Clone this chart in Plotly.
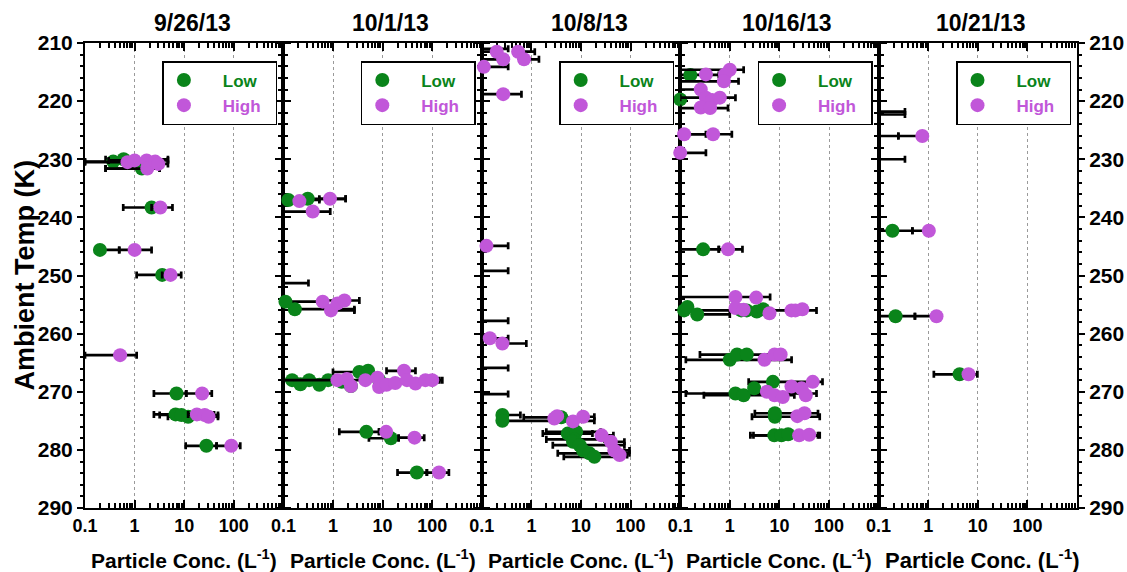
import plotly.graph_objects as go

FONT = "Liberation Sans, Arial, Helvetica, sans-serif"
GREEN = "#0a841a"
PURPLE = "#c157d9"

DATES = ["9/26/13", "10/1/13", "10/8/13", "10/16/13", "10/21/13"]
X_TICKS = [0.1, 1, 10, 100]
X_TICK_TEXT = ["0.1", "1", "10", "100"]
Y_TICKS = [210, 220, 230, 240, 250, 260, 270, 280, 290]
BELOW_DETECTION = 0.05  # concentration below axis range (bar only)

# ---------------- 9/26/13 ----------------
d1_low_conc = [0.37, 0.60, 1.4, 2.2, 0.20, 3.6, 7.0, 6.7, 8.8, 12, 28]
d1_low_temp = [230.4, 230.0, 231.6, 238.3, 245.6, 249.9, 270.3, 273.9, 274.0, 274.3, 279.3]
d1_low_lo = [0.1, 0.26, 0.26, 0.59, None, 1.1, 2.45, 2.45, 3.2, 4.7, 10.7]
d1_low_hi = [1.2, 4.7, 3.2, 3.3, 0.49, 5.0, 11, 9, 12, 15, 45]
d1_high_conc = [0.72, 1.0, 1.75, 1.8, 2.6, 3.0, 3.3, 1.0, 5.3, 0.51, 23, 18, 26, 31, 89]
d1_high_temp = [230.5, 230.2, 230.2, 231.6, 230.4, 230.8, 238.3, 245.6, 249.9, 263.7, 270.3, 273.9, 274.0, 274.3, 279.3]
d1_high_lo = [0.1, 0.3, None, 0.26, None, None, 2.2, 0.49, 3.6, 0.1, 11, 12, 15, 20, 45]
d1_high_hi = [3.2, 4.7, None, 3.2, None, 4.7, 5.8, 2.2, 8.7, 1.1, 36, 40, 48, 48, 135]
d1_below_temp = []
d1_below_hi = []

# ---------------- 10/1/13 ----------------
d2_low_conc = [0.126, 0.31, 0.11, 0.17, 0.15, 0.22, 0.33, 0.53, 0.8, 1.5, 2.3, 3.4, 5.1, 8.5, 4.7, 14.7, 49]
d2_low_temp = [237.0, 236.8, 254.5, 255.8, 268.0, 268.7, 268.0, 268.8, 268.0, 268.3, 269.0, 266.6, 266.4, 268.0, 276.9, 278.0, 283.9]
d2_low_lo = [0.1, None, 0.1, None, 0.1, None, None, None, None, None, None, 1.0, None, None, 1.34, 5.3, 20]
d2_low_hi = [0.53, 1.8, 0.53, 2.7, 140, None, None, None, None, None, None, None, None, None, 8.5, 21, 78]
d2_high_conc = [0.21, 0.87, 0.39, 0.62, 0.91, 1.23, 1.7, 1.23, 1.9, 2.3, 4.5, 7.9, 8.5, 12, 18, 27, 31, 46, 73, 100, 11.8, 44, 137]
d2_high_temp = [237.2, 236.8, 239.0, 254.5, 256.0, 254.8, 254.3, 268.0, 267.8, 269.0, 268.0, 267.6, 269.2, 268.8, 268.5, 266.4, 268.0, 268.6, 268.0, 268.0, 276.9, 277.9, 283.9]
d2_high_lo = [None, 0.53, 0.1, None, None, None, 0.53, 0.1, None, None, None, None, None, None, None, 12, None, None, None, None, 8.5, 21, 78]
d2_high_hi = [None, 1.8, 0.88, None, 2.7, None, 3.4, None, None, None, None, None, None, None, None, 46, None, None, None, 160, 13.5, 69, 217]
d2_below_temp = [251.3]
d2_below_hi = [0.32]

# ---------------- 10/8/13 ----------------
d3_low_conc = [0.26, 0.26, 4.0, 5.4, 8.0, 7.4, 6.9, 9.4, 11, 14.8, 18.6]
d3_low_temp = [274.0, 275.0, 274.4, 277.2, 276.9, 278.2, 278.6, 279.2, 280.1, 280.6, 281.2]
d3_low_lo = [None, None, 0.7, 1.7, 2.0, 2.0, None, 2.7, None, 3.4, 4.5]
d3_low_hi = [0.6, 18.6, 12, 17, 25, 30, None, 75, None, 95, 60]
d3_high_conc = [0.2, 0.27, 0.54, 0.71, 0.11, 0.27, 0.124, 0.145, 0.26, 2.9, 3.3, 6.9, 11, 26, 40, 47, 60]
d3_high_temp = [211.5, 212.8, 211.5, 212.8, 214.1, 218.8, 244.9, 260.8, 261.7, 274.6, 274.2, 275.1, 274.3, 277.5, 278.6, 280.1, 280.9]
d3_high_lo = [0.1, 0.1, None, None, 0.1, 0.1, 0.1, 0.1, None, None, None, None, None, None, None, None, None]
d3_high_hi = [None, None, 1.17, 1.42, 0.34, 0.63, 0.34, 0.34, 0.79, None, None, None, 18.6, 45, 75, 95, 85]
d3_below_temp = [211.0, 249.2, 257.8, 265.9, 270.4]
d3_below_hi = [0.34, 0.34, 0.34, 0.34, 0.34]

# ---------------- 10/16/13 ----------------
d4_low_conc = [0.16, 0.1, 0.29, 0.12, 0.14, 0.22, 1.7, 2.2, 3.5, 4.7, 1.0, 1.4, 2.2, 1.3, 1.9, 3.1, 7.4, 8.1, 8.1, 7.9, 11, 15]
d4_low_temp = [215.5, 219.7, 245.5, 256.0, 255.4, 256.7, 256.0, 256.0, 256.2, 255.8, 264.5, 263.6, 263.6, 270.3, 270.6, 269.4, 268.3, 274.3, 273.7, 277.5, 277.5, 277.3]
d4_low_lo = [0.1, None, 0.1, 0.1, None, None, None, None, None, None, 0.13, 0.25, None, 0.13, 0.3, None, 2.4, 2.8, 3.2, 2.6, 3.0, None]
d4_low_hi = [0.6, None, 0.6, 56, None, 1.0, None, None, None, None, 17.6, 12, None, 56, 20, None, 74, 65, 60, 65, 60, None]
d4_high_conc = [0.33, 1.0, 0.8, 0.76, 0.26, 0.33, 0.44, 0.63, 0.26, 0.4, 0.12, 0.46, 0.1, 0.92, 1.3, 3.4,
                1.3, 1.9, 6.3, 17.5, 21, 29, 5.0, 8.0, 10.6, 5.6, 8.0, 11.7, 17.5, 28, 34, 47, 23, 32, 25, 40]
d4_high_temp = [215.4, 214.6, 215.4, 216.6, 218.0, 219.4, 219.8, 219.4, 221.1, 221.2, 225.7, 225.7, 228.9, 245.5, 253.7, 253.8,
                255.6, 255.9, 256.5, 256.0, 256.0, 255.8, 264.5, 263.6, 263.6, 270.0, 270.6, 270.9, 269.1, 269.4, 270.6, 268.3, 274.2, 273.7, 277.5, 277.4]
d4_high_lo = [None, 0.1, None, 0.1, 0.1, None, None, 0.1, None, 0.1, None, 0.1, None, 0.6, 0.1, None,
              None, None, None, None, None, None, None, None, None, None, None, None, None, None, None, None, None, None, None, None]
d4_high_hi = [None, 1.9, None, 1.5, None, None, None, 1.3, None, 0.92, 0.33, 1.1, 0.33, 1.8, 6.5, None,
              None, None, None, None, None, None, None, None, None, None, None, None, None, None, None, None, None, None, None, None]
d4_below_temp = []
d4_below_hi = []

# ---------------- 10/21/13 ----------------
d5_low_conc = [0.19, 0.22, 4.3]
d5_low_temp = [242.3, 257.0, 267.0]
d5_low_lo = [0.1, 0.1, 1.3]
d5_low_hi = [0.48, 0.54, None]
d5_high_conc = [0.76, 1.03, 1.47, 6.5]
d5_high_temp = [226.0, 242.3, 257.0, 267.0]
d5_high_lo = [0.25, 0.48, 0.54, None]
d5_high_hi = [None, None, None, 9.8]
d5_below_temp = [221.8, 222.3, 226.0, 230.0]
d5_below_hi = [0.34, 0.34, 0.25, 0.34]

PANELS = [
    (d1_low_conc, d1_low_temp, d1_low_lo, d1_low_hi, d1_high_conc, d1_high_temp, d1_high_lo, d1_high_hi, d1_below_temp, d1_below_hi),
    (d2_low_conc, d2_low_temp, d2_low_lo, d2_low_hi, d2_high_conc, d2_high_temp, d2_high_lo, d2_high_hi, d2_below_temp, d2_below_hi),
    (d3_low_conc, d3_low_temp, d3_low_lo, d3_low_hi, d3_high_conc, d3_high_temp, d3_high_lo, d3_high_hi, d3_below_temp, d3_below_hi),
    (d4_low_conc, d4_low_temp, d4_low_lo, d4_low_hi, d4_high_conc, d4_high_temp, d4_high_lo, d4_high_hi, d4_below_temp, d4_below_hi),
    (d5_low_conc, d5_low_temp, d5_low_lo, d5_low_hi, d5_high_conc, d5_high_temp, d5_high_lo, d5_high_hi, d5_below_temp, d5_below_hi),
]

PLOT_W = 992
PLOT_H = 465
NB = "&nbsp;"


def err_arrays(conc, lo, hi):
    plus = [(h - c) if h is not None else 0 for c, h in zip(conc, hi)]
    minus = [(c - l) if l is not None else 0 for c, l in zip(conc, lo)]
    return plus, minus


fig = go.Figure()
ERR_STYLE = dict(type="data", symmetric=False, color="black", thickness=2.7, width=3.5)

for i, (lc, lt, llo, lhi, hc, ht, hlo, hhi, bt, bhi) in enumerate(PANELS):
    xa = "x" if i == 0 else f"x{i+1}"
    ya = "y" if i == 0 else f"y{i+1}"
    leg = "legend" if i == 0 else f"legend{i+1}"
    if bt:
        fig.add_trace(go.Scatter(
            x=[BELOW_DETECTION] * len(bt), y=bt, mode="markers",
            marker=dict(size=1, opacity=0), showlegend=False, hoverinfo="skip",
            error_x=dict(array=[h - BELOW_DETECTION for h in bhi], arrayminus=[0] * len(bt), **ERR_STYLE),
            xaxis=xa, yaxis=ya, cliponaxis=True))
    p, m = err_arrays(lc, llo, lhi)
    fig.add_trace(go.Scatter(
        x=lc, y=lt, mode="markers", name=f"{NB*4}<span style='color:{GREEN}'>Low</span>{NB*2}",
        marker=dict(size=14, color=GREEN), error_x=dict(array=p, arrayminus=m, **ERR_STYLE),
        xaxis=xa, yaxis=ya, legend=leg, cliponaxis=False))
    p, m = err_arrays(hc, hlo, hhi)
    fig.add_trace(go.Scatter(
        x=hc, y=ht, mode="markers", name=f"{NB*4}<span style='color:{PURPLE}'>High</span>{NB*2}",
        marker=dict(size=14, color=PURPLE), error_x=dict(array=p, arrayminus=m, **ERR_STYLE),
        xaxis=xa, yaxis=ya, legend=leg, cliponaxis=False))

minor_x = [k * 10.0 ** e for e in (-1, 0, 1, 2) for k in range(2, 10)]
layout = dict(
    width=1127, height=572,
    margin=dict(l=85, r=50, t=43, b=64, pad=0, autoexpand=False),
    paper_bgcolor="white", plot_bgcolor="white",
    font=dict(family=FONT, color="black"),
    annotations=[],
)
for i in range(5):
    xkey = "xaxis" if i == 0 else f"xaxis{i+1}"
    ykey = "yaxis" if i == 0 else f"yaxis{i+1}"
    layout[xkey] = dict(
        domain=[i / 5, (i + 1) / 5], anchor="y" if i == 0 else f"y{i+1}",
        type="log", range=[-1, 3], tickmode="array", tickvals=X_TICKS, ticktext=X_TICK_TEXT,
        ticks="inside", ticklen=8, tickwidth=2, tickcolor="black",
        showline=True, linewidth=2, linecolor="black", mirror="ticks",
        showgrid=True, gridcolor="#9a9a9a", griddash="dot", gridwidth=1,
        minor=dict(tickmode="array", tickvals=minor_x, ticks="inside", ticklen=5, tickwidth=1.5,
                   tickcolor="black", showgrid=False),
        tickfont=dict(size=18, weight="bold"), layer="below traces", zeroline=False,
        automargin=False,
    )
    layout[ykey] = dict(
        domain=[0, 1], anchor="x" if i == 0 else f"x{i+1}",
        range=[290, 210], tickmode="array", tickvals=Y_TICKS,
        ticks="outside", ticklen=6, tickwidth=2, tickcolor="black",
        showline=True, linewidth=2, linecolor="black", mirror="ticks",
        showgrid=False, zeroline=False,
        minor=dict(dtick=2, tick0=210, ticks="outside", ticklen=3, tickwidth=1.5, tickcolor="black"),
        showticklabels=(i == 0 or i == 4), side="right" if i == 4 else "left",
        tickfont=dict(size=21, weight="bold"), layer="below traces", automargin=False,
    )
    legkey = "legend" if i == 0 else f"legend{i+1}"
    layout[legkey] = dict(
        x=(i + 1) / 5 - 6 / PLOT_W, xanchor="right", y=1 - 18 / PLOT_H, yanchor="top",
        bgcolor="white", bordercolor="black", borderwidth=1.5,
        font=dict(size=17, weight="bold", family=FONT), itemsizing="trace",
    )
    cx = (i + 0.5) / 5
    layout["annotations"].append(dict(
        text=f"<b>{DATES[i]}</b>", x=cx, y=1 + 20 / PLOT_H, xref="paper", yref="paper",
        xanchor="center", yanchor="middle", showarrow=False, xshift=8 if i < 4 else 3,
        font=dict(size=23, family=FONT, color="black")))
    layout["annotations"].append(dict(
        text="<b>Particle Conc. (L<sup>-1</sup>)</b>", x=cx, y=-51 / PLOT_H, xref="paper", yref="paper",
        xanchor="center", yanchor="middle", showarrow=False, xshift=0 if i < 4 else 5,
        font=dict(size=21 if i < 4 else 22, family=FONT, color="black")))

# inward-pointing companion ticks on the outer left and right frame edges
for key, base, anchor, side in (("yaxis6", "y", "x", "left"), ("yaxis7", "y5", "x5", "right")):
    layout[key] = dict(
        overlaying=base, anchor=anchor, side=side, range=[290, 210], tickmode="array", tickvals=Y_TICKS,
        ticks="inside", ticklen=6, tickwidth=2, tickcolor="black", showticklabels=False,
        showline=False, showgrid=False, zeroline=False, automargin=False,
        minor=dict(dtick=2, tick0=210, ticks="inside", ticklen=3, tickwidth=1.5, tickcolor="black"),
    )

layout["annotations"].append(dict(
    text="<b>Ambient Temp (K)</b>", x=-61 / PLOT_W, y=0.5, xref="paper", yref="paper",
    xanchor="center", yanchor="middle", textangle=-90, showarrow=False,
    font=dict(size=27, family=FONT, color="black")))

fig.update_layout(**layout)
fig.write_html("out.html", config={"displayModeBar": False},
               post_script="document.body.style.margin='0';document.body.style.padding='0';")
